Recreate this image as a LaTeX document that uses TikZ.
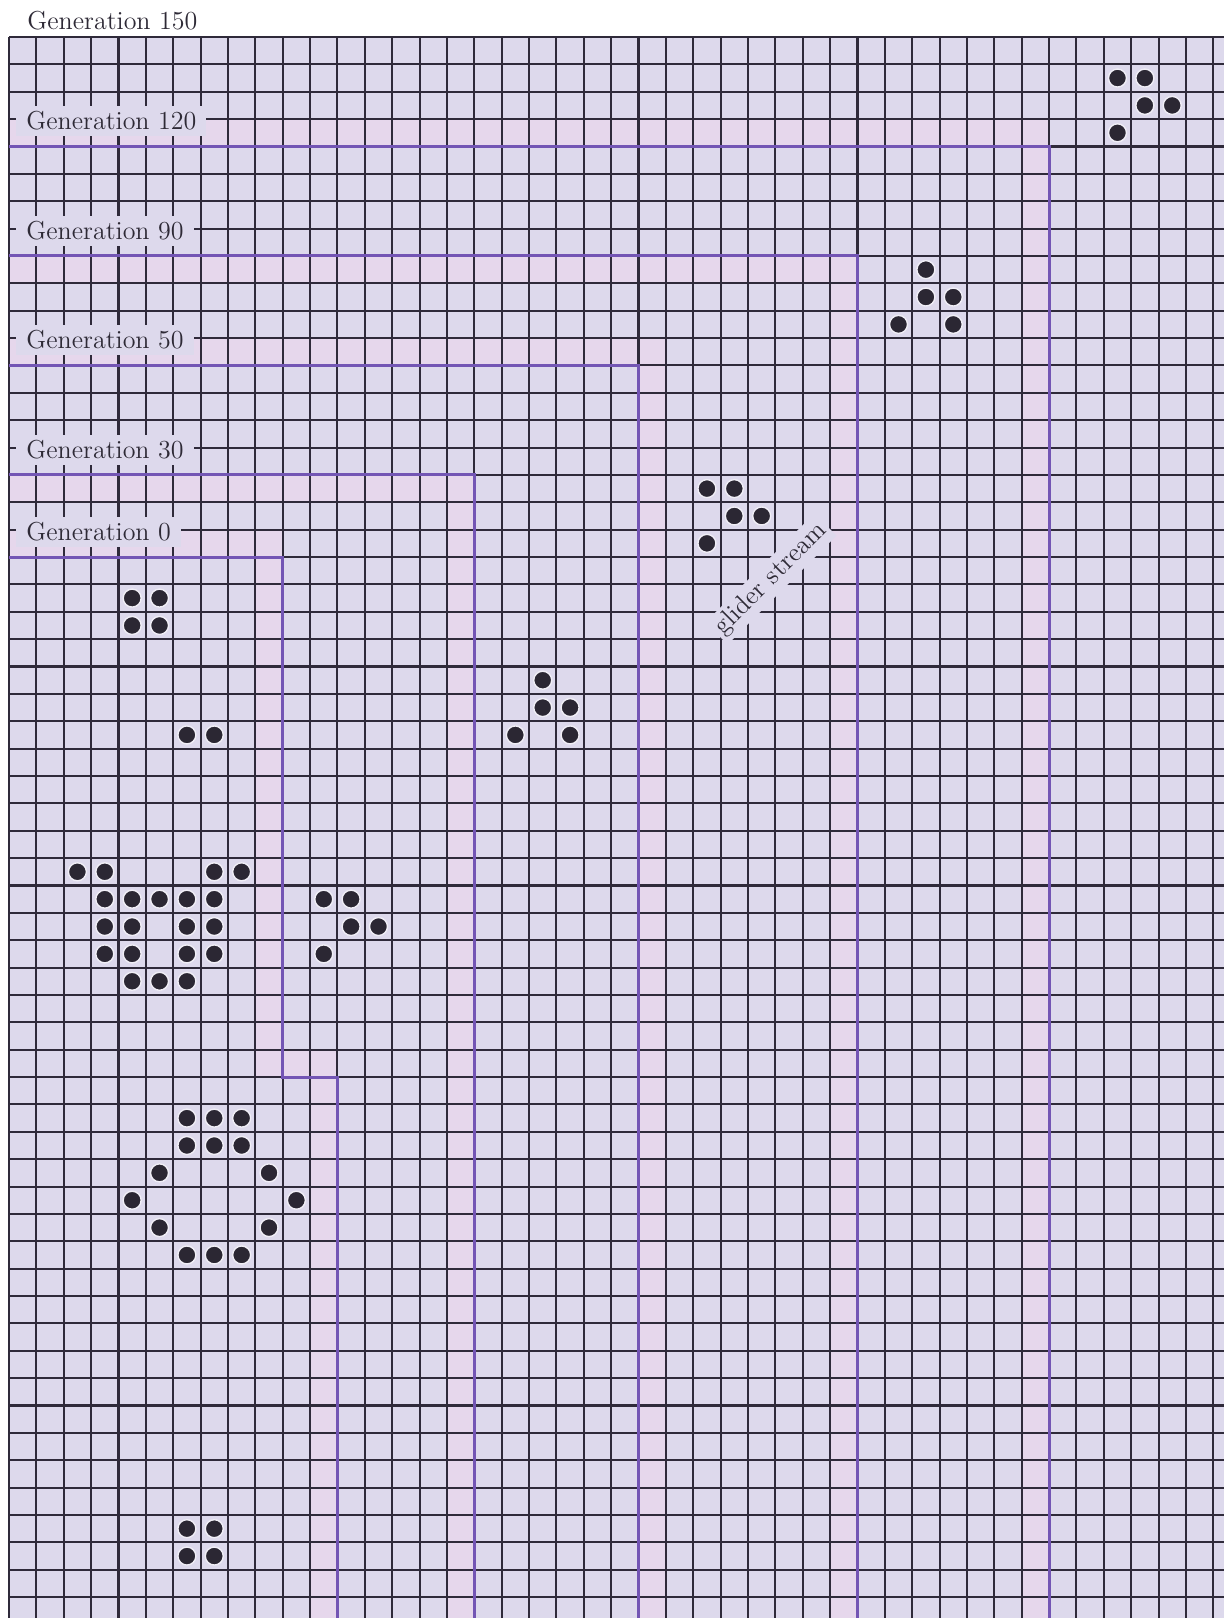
\documentclass[tikz,border=0pt]{standalone}
\usepackage{xcolor}
\definecolor{lav}{HTML}{DDD9EC}
\definecolor{pinkb}{HTML}{E6D7EC}
\definecolor{gridc}{HTML}{2F2A3A}
\definecolor{purp}{HTML}{7355B4}
\definecolor{dotc}{HTML}{2B2733}
\definecolor{txtc}{HTML}{2E2A36}
\begin{document}
\begin{tikzpicture}[x=0.5pt,y=-0.5pt,
  gridline/.style={draw=gridc, line width=1.05pt},
  genline/.style={draw=purp, line width=1.5pt},
  band/.style={fill=pinkb},
  livecell/.style={fill=dotc, draw=white!55!lav, line width=0.7pt},
  genlabel/.style={anchor=west, fill=lav, text=txtc, inner xsep=5pt, inner ysep=0pt,
    minimum height=15pt, font=\fontsize{13}{15}\selectfont, yshift=-1pt},
  streamlabel/.style={fill=lav, text=txtc, inner sep=2pt, font=\fontsize{13}{15}\selectfont, rotate=45}]
\def\xo{9}\def\yo{37}\def\s{27.37}
\useasboundingbox (0,0) rectangle (1224,1618);
\fill[white] (0,0) rectangle (1224,1618);
\begin{scope}
\clip ({\xo-2},{\yo-2}) rectangle (1224,1618);
\fill[lav] (\xo,\yo) rectangle (1224,1618);
% pink bands
\fill[band] (\xo,{\yo+3*\s}) rectangle ({\xo+38*\s},{\yo+4*\s});
\fill[band] ({\xo+37*\s},{\yo+4*\s}) rectangle ({\xo+38*\s},1618);
\fill[band] (\xo,{\yo+8*\s}) rectangle ({\xo+31*\s},{\yo+9*\s});
\fill[band] ({\xo+30*\s},{\yo+9*\s}) rectangle ({\xo+31*\s},1618);
\fill[band] (\xo,{\yo+11*\s}) rectangle ({\xo+24*\s},{\yo+12*\s});
\fill[band] ({\xo+23*\s},{\yo+12*\s}) rectangle ({\xo+24*\s},1618);
\fill[band] (\xo,{\yo+16*\s}) rectangle ({\xo+17*\s},{\yo+17*\s});
\fill[band] ({\xo+16*\s},{\yo+17*\s}) rectangle ({\xo+17*\s},1618);
\fill[band] (\xo,{\yo+18*\s}) rectangle ({\xo+10*\s},{\yo+19*\s});
\fill[band] ({\xo+9*\s},{\yo+19*\s}) rectangle ({\xo+10*\s},{\yo+38*\s});
\fill[band] ({\xo+10*\s},{\yo+37*\s}) rectangle ({\xo+12*\s},{\yo+38*\s});
\fill[band] ({\xo+11*\s},{\yo+38*\s}) rectangle ({\xo+12*\s},1618);
% grid
\foreach \i in {0,...,44} \draw[gridline] ({\xo+\i*\s},\yo) -- ({\xo+\i*\s},1620);
\foreach \j in {0,...,57} \draw[gridline] (\xo,{\yo+\j*\s}) -- (1226,{\yo+\j*\s});
% generation boundaries
\draw[genline] (\xo,{\yo+4*\s}) -| ({\xo+38*\s},1620);
\draw[genline] (\xo,{\yo+8*\s}) -| ({\xo+31*\s},1620);
\draw[genline] (\xo,{\yo+12*\s}) -| ({\xo+23*\s},1620);
\draw[genline] (\xo,{\yo+16*\s}) -| ({\xo+17*\s},1620);
\draw[genline] (\xo,{\yo+19*\s}) -| ({\xo+10*\s},{\yo+38*\s}) -| ({\xo+12*\s},1620);
% live cells
\foreach \c/\r in {40/1,41/1,41/2,42/2,40/3,
  33/8,33/9,34/9,32/10,34/10,
  25/16,26/16,26/17,27/17,25/18,
  19/23,19/24,20/24,18/25,20/25,
  4/20,5/20,4/21,5/21,
  6/25,7/25,
  2/30,3/30,7/30,8/30,
  3/31,4/31,5/31,6/31,7/31,
  3/32,4/32,6/32,7/32,
  3/33,4/33,6/33,7/33,
  4/34,5/34,6/34,
  11/31,12/31,12/32,13/32,11/33,
  6/39,7/39,8/39,6/40,7/40,8/40,
  5/41,9/41,4/42,10/42,5/43,9/43,
  6/44,7/44,8/44,
  6/54,7/54,6/55,7/55}
  \filldraw[livecell] ({\xo+(\c+0.5)*\s},{\yo+(\r+0.5)*\s}) circle (9);
\end{scope}
% labels
\node[anchor=base west, inner sep=0pt, text=txtc, font=\fontsize{13}{15}\selectfont] (g150) at (27,29) {Generation 150};
\node[genlabel] (g120) at (16,{\yo+3*\s}) {Generation 120};
\node[genlabel] (g90) at (16,{\yo+7*\s}) {Generation 90};
\node[genlabel] (g50) at (16,{\yo+11*\s}) {Generation 50};
\node[genlabel] (g30) at (16,{\yo+15*\s}) {Generation 30};
\node[genlabel] (g0) at (16,{\yo+18*\s}) {Generation 0};
\node[streamlabel] (gs) at (771,579) {glider stream};
\end{tikzpicture}
\end{document}
